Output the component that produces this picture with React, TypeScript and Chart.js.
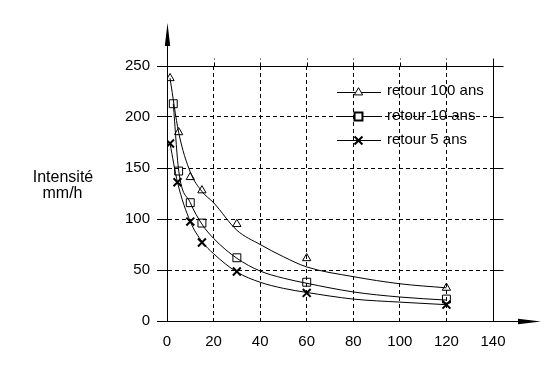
import React, { useEffect, useRef } from 'react';
import { Chart, registerables } from 'chart.js';
import { drawPoint } from 'chart.js/helpers';

Chart.register(...registerables);

// Measured points (duration in minutes, intensity mm/h)
const durations100 = [1.3, 5, 10, 15, 30, 60, 120];
const values100 = [238, 185, 141, 128, 95, 61.5, 32.5];
const durations10 = [2.7, 5, 10, 15, 30, 60, 120];
const values10 = [213, 147, 116, 96, 62, 38, 21.5];
const durations5 = [1.3, 4.5, 10, 15, 30, 60, 120];
const values5 = [174, 136, 97.5, 77, 48.5, 27.5, 16];

// Fitted curves
const curveX100 = [1.3, 5, 10, 15, 20, 30, 40, 50, 60, 80, 100, 120];
const curveY100 = [238, 185, 146, 127, 116, 89, 75, 63, 53, 43.5, 36.5, 32.5];
const curveX10 = [2.7, 5, 10, 15, 20, 30, 40, 50, 60, 80, 100, 120];
const curveY10 = [213, 148, 116, 95, 81, 61.5, 49, 42, 37, 28.5, 23.5, 20.5];
const curveX5 = [1.3, 4.5, 10, 15, 20, 30, 40, 50, 60, 80, 100, 120];
const curveY5 = [174, 136, 97.5, 78, 66, 48, 38, 32, 28, 21.5, 18.5, 16];

const legendLabels = ['retour 100 ans', 'retour 10 ans', 'retour 5 ans'];
const yTitleLines = ['Intensité', 'mm/h'];
const xTickValues = [20, 40, 60, 80, 100, 120, 140];
const yTickValues = [50, 100, 150, 200, 250];

const FONT = "'Liberation Sans', Arial, sans-serif";

const pts = (xs: number[], ys: number[]) => xs.map((x, i) => ({ x, y: ys[i] }));

const markerStyles = [
  { style: 'triangle', radius: 4.8, width: 1 },
  { style: 'rect', radius: 5.6, width: 1 },
  { style: 'crossRot', radius: 5.6, width: 2 },
];

const decorPlugin = {
  id: 'decor',
  afterDraw(chart: any) {
    const ctx = chart.ctx as CanvasRenderingContext2D;
    const { left, right, top, bottom } = chart.chartArea;
    const xs = chart.scales.x;
    const ys = chart.scales.y;
    ctx.save();
    ctx.strokeStyle = '#000';
    ctx.fillStyle = '#000';
    ctx.lineWidth = 1;
    const L = Math.round(left) + 0.5;
    const B = Math.round(bottom) + 0.5;
    const T = Math.round(top) + 0.5;
    const R = Math.round(right) + 0.5;
    // y axis extension + arrow
    ctx.beginPath();
    ctx.moveTo(L, T);
    ctx.lineTo(L, 30);
    ctx.stroke();
    ctx.beginPath();
    ctx.moveTo(L, 23);
    ctx.lineTo(L - 2.7, 46);
    ctx.lineTo(L + 2.7, 46);
    ctx.closePath();
    ctx.fill();
    // x axis extension + arrow
    ctx.beginPath();
    ctx.moveTo(R, B);
    ctx.lineTo(520, B);
    ctx.stroke();
    ctx.beginPath();
    ctx.moveTo(541, B);
    ctx.lineTo(518, B - 2.8);
    ctx.lineTo(518, B + 2.8);
    ctx.closePath();
    ctx.fill();
    // top extensions of vertical lines
    xTickValues.forEach((v) => {
      const px = Math.round(xs.getPixelForValue(v)) + 0.5;
      ctx.setLineDash(v === 140 ? [] : [4, 3]);
      ctx.beginPath();
      ctx.moveTo(px, T);
      ctx.lineTo(px, T - 8);
      ctx.stroke();
    });
    ctx.setLineDash([]);
    // right extensions of horizontal lines
    yTickValues.forEach((v) => {
      const py = Math.round(ys.getPixelForValue(v)) + 0.5;
      ctx.beginPath();
      ctx.moveTo(R, py);
      ctx.lineTo(R + 10, py);
      ctx.stroke();
    });
    // legend
    const rows = [92.5, 116.5, 140.5];
    const baselines = [95, 120, 144];
    ctx.textBaseline = 'alphabetic';
    ctx.textAlign = 'left';
    legendLabels.forEach((label, i) => {
      ctx.lineWidth = 1;
      ctx.strokeStyle = '#000';
      ctx.beginPath();
      ctx.moveTo(337, rows[i]);
      ctx.lineTo(381, rows[i]);
      ctx.stroke();
      const m = markerStyles[i];
      ctx.lineWidth = i === 0 ? 1 : 2;
      ctx.fillStyle = '#fff';
      drawPoint(ctx, { pointStyle: m.style, radius: m.radius, rotation: 0, borderWidth: i === 0 ? 1 : 2 } as any, 358.5, rows[i]);
      ctx.fillStyle = '#000';
      ctx.font = `15px ${FONT}`;
      ctx.fillText(label, 387, baselines[i]);
    });
    // y title
    ctx.fillStyle = '#000';
    ctx.font = `16px ${FONT}`;
    ctx.textAlign = 'center';
    ctx.fillText(yTitleLines[0], 63, 181.5);
    ctx.fillText(yTitleLines[1], 62.5, 197.5);
    ctx.restore();
  },
};

export default function App() {
  const ref = useRef<HTMLCanvasElement | null>(null);
  useEffect(() => {
    if (!ref.current) return;
    const lineDs = (xs: number[], ys: number[]) => ({
      type: 'line' as const,
      data: pts(xs, ys),
      borderColor: '#000',
      borderWidth: 1,
      pointRadius: 0,
      cubicInterpolationMode: 'monotone' as const,
      fill: false,
    });
    const markDs = (xs: number[], ys: number[], i: number) => ({
      type: 'line' as const,
      data: pts(xs, ys),
      showLine: false,
      pointStyle: markerStyles[i].style,
      pointRadius: markerStyles[i].radius,
      pointBorderWidth: markerStyles[i].width,
      pointBorderColor: '#000',
      pointBackgroundColor: 'rgba(0,0,0,0)',
    });
    const chart = new Chart(ref.current, {
      type: 'line',
      data: {
        datasets: [
          lineDs(curveX100, curveY100),
          lineDs(curveX10, curveY10),
          lineDs(curveX5, curveY5),
          markDs(durations100, values100, 0),
          markDs(durations10, values10, 1),
          markDs(durations5, values5, 2),
        ] as any,
      },
      options: {
        responsive: false,
        animation: false,
        events: [],
        layout: { padding: { top: 66, right: 67, bottom: 0, left: 0 } },
        plugins: { legend: { display: false }, tooltip: { enabled: false } },
        scales: {
          x: {
            type: 'linear',
            min: 0,
            max: 140,
            afterFit: (s: any) => { s.height = 50; },
            ticks: { stepSize: 20, color: '#000', font: { family: FONT, size: 15 }, padding: 12, maxRotation: 0 },
            grid: { color: '#000', lineWidth: 1, drawTicks: false },
            border: { display: true, color: '#000', width: 1, dash: (c: any) => (c.tick && c.tick.value === 140 ? [] : [4, 3]) },
          },
          y: {
            type: 'linear',
            min: 0,
            max: 250,
            afterFit: (s: any) => { s.width = 167; },
            ticks: { stepSize: 50, color: '#000', font: { family: FONT, size: 15 }, padding: 7 },
            grid: { color: '#000', lineWidth: 1, drawTicks: true, tickLength: 10, tickColor: '#000', tickBorderDash: [] },
            border: { display: true, color: '#000', width: 1, dash: (c: any) => (c.tick && c.tick.value === 250 ? [] : [4, 3]) },
          },
        },
      } as any,
      plugins: [decorPlugin],
    });
    return () => chart.destroy();
  }, []);
  return (
    <div style={{ position: 'fixed', left: 0, top: 0, width: 560, height: 371, background: '#fff' }}>
      <canvas ref={ref} width={560} height={371} style={{ display: 'block' }} />
    </div>
  );
}
